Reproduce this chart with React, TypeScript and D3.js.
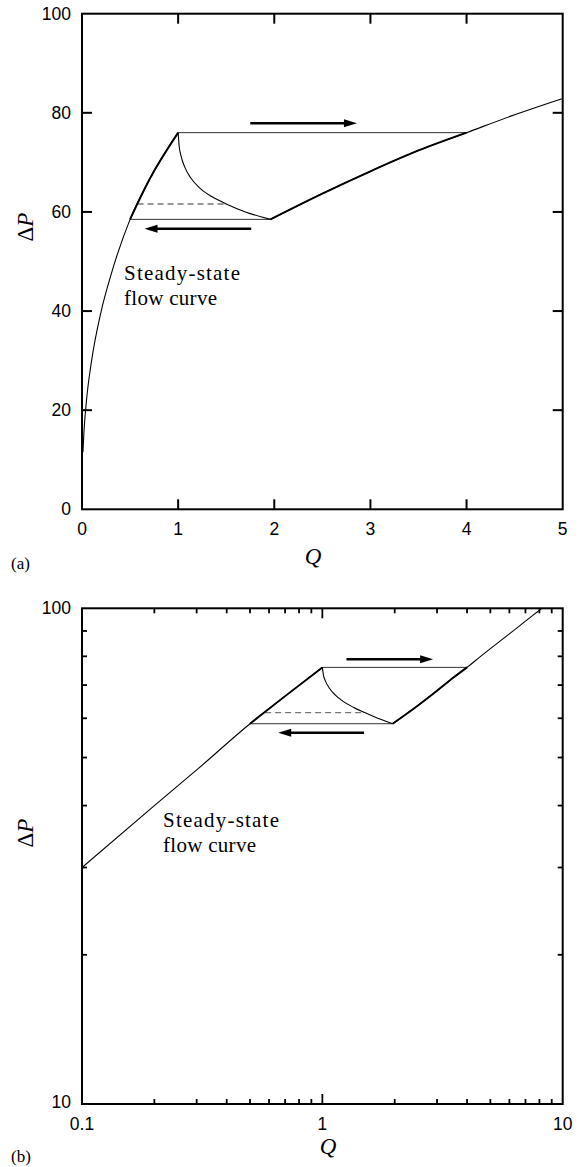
import React from "react";
import * as d3 from "d3";

// Steady-state flow curve, low-flow branch (Q, ΔP)
const steadyLowQ = [0.01, 0.02, 0.05, 0.1, 0.2, 0.3, 0.5, 0.7, 1.0];
const steadyLowP = [11.5, 15.5, 22.6, 30.0, 40.0, 47.2, 58.5, 66.5, 76.0];
// Steady-state flow curve, high-flow branch
const steadyHighQ = [1.96, 2.5, 3, 3.5, 4, 4.5, 5, 6, 7, 8, 8.3];
const steadyHighP = [58.5, 63.7, 68.2, 72.4, 76.0, 79.6, 82.9, 88.8, 94.2, 99.1, 100.5];
// Pressure relaxation after the jump at the peak
const decayQ = [1.0, 1.01, 1.03, 1.07, 1.13, 1.22, 1.35, 1.5, 1.7, 1.96];
const decayP = [76, 73.4, 71.3, 69.0, 66.9, 64.9, 63.1, 61.6, 60.0, 58.5];
// Hysteresis plateaus: [Q start, Q end, ΔP]
const upperPlateau = [1.0, 4.0, 76.0];
const lowerPlateau = [0.5, 1.96, 58.5];
const dashedLevel = [0.578, 1.5, 61.6];
// Direction arrows: [Q tail, Q tip, ΔP]
const arrowsLinear = [
  [1.75, 2.86, 77.9],
  [1.76, 0.65, 56.6],
];
const arrowsLog = [
  [1.26, 2.89, 78.9],
  [1.49, 0.655, 56.1],
];
// Tick values
const linXTicks = [0, 1, 2, 3, 4, 5];
const linYTicks = [0, 20, 40, 60, 80, 100];
const logXMajor = [0.1, 1, 10];
const logXLabels = ["0.1", "1", "10"];
const logXMinor = [0.2, 0.3, 0.4, 0.5, 0.6, 0.7, 0.8, 0.9, 2, 3, 4, 5, 6, 7, 8, 9];
const logYMajor = [10, 100];
const logYMinor = [20, 30, 40, 50, 60, 70, 80, 90];

const sans = "Liberation Sans, Arimo, Arial, sans-serif";
const serif = "Liberation Serif, Tinos, Times New Roman, serif";

type Pt = [number, number];
const zip = (qs: number[], ps: number[]): Pt[] => qs.map((q, i) => [q, ps[i]]);

function Arrow({ x1, x2, y }: { x1: number; x2: number; y: number }) {
  const dir = x2 > x1 ? 1 : -1;
  const head = 13;
  return (
    <g>
      <line x1={x1} x2={x2 - dir * head * 0.8} y1={y} y2={y} stroke="#000" strokeWidth={2.4} />
      <path d={`M${x2},${y} L${x2 - dir * head},${y - 4} L${x2 - dir * head},${y + 4} Z`} fill="#000" />
    </g>
  );
}

function Curves({
  x,
  y,
  low,
  high,
  arrows,
  clipId,
}: {
  x: (v: number) => number;
  y: (v: number) => number;
  low: Pt[];
  high: Pt[];
  arrows: number[][];
  clipId: string;
}) {
  const line = d3
    .line<Pt>()
    .x((d) => x(d[0]))
    .y((d) => y(d[1]))
    .curve(d3.curveMonotoneX);
  const decay = zip(decayQ, decayP);
  const lowThick = low.filter((d) => d[0] >= lowerPlateau[0]);
  const highThick = high.filter((d) => d[0] <= upperPlateau[1]);
  return (
    <g clipPath={`url(#${clipId})`}>
      <line x1={x(upperPlateau[0])} x2={x(upperPlateau[1])} y1={y(upperPlateau[2])} y2={y(upperPlateau[2])} stroke="#333" strokeWidth={1} />
      <line x1={x(lowerPlateau[0])} x2={x(lowerPlateau[1])} y1={y(lowerPlateau[2])} y2={y(lowerPlateau[2])} stroke="#333" strokeWidth={1} />
      <line
        x1={x(dashedLevel[0])}
        x2={x(dashedLevel[1])}
        y1={y(dashedLevel[2])}
        y2={y(dashedLevel[2])}
        stroke="#777"
        strokeWidth={1.3}
        strokeDasharray="6,4"
      />
      <path d={line(low) || ""} fill="none" stroke="#000" strokeWidth={1.1} />
      <path d={line(high) || ""} fill="none" stroke="#000" strokeWidth={1.1} />
      <path d={line(lowThick) || ""} fill="none" stroke="#000" strokeWidth={1.9} />
      <path d={line(highThick) || ""} fill="none" stroke="#000" strokeWidth={1.9} />
      <path d={line(decay) || ""} fill="none" stroke="#000" strokeWidth={1.1} />
      {arrows.map((a, i) => (
        <Arrow key={i} x1={x(a[0])} x2={x(a[1])} y={y(a[2])} />
      ))}
    </g>
  );
}

function DeltaP({ cx, cy }: { cx: number; cy: number }) {
  return (
    <text
      transform={`translate(${cx},${cy}) rotate(-90)`}
      textAnchor="middle"
      dominantBaseline="central"
      style={{ fontFamily: serif, fontSize: 23 }}
    >
      Δ<tspan style={{ fontStyle: "italic" }}>P</tspan>
    </text>
  );
}

function FlowLabel({ x, y }: { x: number; y: number }) {
  return (
    <g style={{ fontFamily: serif, fontSize: 21 }}>
      <text x={x} y={y} textLength={116} lengthAdjust="spacing">
        Steady-state
      </text>
      <text x={x} y={y + 25} textLength={93} lengthAdjust="spacing">
        flow curve
      </text>
    </g>
  );
}

export default function App() {
  const L = 82;
  const R = 562.7;

  // Panel (a): linear axes
  const xa = d3.scaleLinear().domain([0, 5]).range([L, R]);
  const ya = d3.scaleLinear().domain([0, 100]).range([509.3, 13.7]);
  // Panel (b): logarithmic axes
  const xb = d3.scaleLog().domain([0.1, 10]).range([L, R]);
  const yb = d3.scaleLog().domain([10, 100]).range([1104, 608.3]);

  const lowA = zip(steadyLowQ, steadyLowP);
  const highA = zip(steadyHighQ, steadyHighP);
  const lowB = lowA.filter((d) => d[0] >= 0.1);
  const highB = highA;

  const tickLen = 10;
  const minorLen = 5;
  const labelSize = 17.5;

  const [bBot, bTop] = yb.range() as [number, number];

  return (
    <svg
      width={579}
      height={1167}
      style={{ position: "absolute", left: 0, top: 0, background: "#fff" }}
      xmlns="http://www.w3.org/2000/svg"
    >
      <defs>
        <clipPath id="clipA">
          <rect x={L} y={ya(100)} width={R - L} height={ya(0) - ya(100)} />
        </clipPath>
        <clipPath id="clipB">
          <rect x={L} y={bTop} width={R - L} height={bBot - bTop} />
        </clipPath>
      </defs>

      {/* ---------- Panel (a) ---------- */}
      <Curves x={xa} y={ya} low={lowA} high={highA} arrows={arrowsLinear} clipId="clipA" />
      <g stroke="#000" strokeWidth={2}>
        {linXTicks.slice(1, -1).map((t) => (
          <g key={`ax${t}`}>
            <line x1={xa(t)} x2={xa(t)} y1={ya(0)} y2={ya(0) - tickLen} />
            <line x1={xa(t)} x2={xa(t)} y1={ya(100)} y2={ya(100) + tickLen} />
          </g>
        ))}
        {linYTicks.slice(1, -1).map((t) => (
          <g key={`ay${t}`}>
            <line x1={L} x2={L + tickLen} y1={ya(t)} y2={ya(t)} />
            <line x1={R} x2={R - tickLen} y1={ya(t)} y2={ya(t)} />
          </g>
        ))}
      </g>
      <rect x={L} y={ya(100)} width={R - L} height={ya(0) - ya(100)} fill="none" stroke="#000" strokeWidth={2} />
      <g style={{ fontFamily: sans, fontSize: labelSize }} fill="#000">
        {linXTicks.map((t) => (
          <text key={`axl${t}`} x={xa(t)} y={ya(0) + 26} textAnchor="middle">
            {t}
          </text>
        ))}
        {linYTicks.map((t) => (
          <text key={`ayl${t}`} x={71} y={ya(t)} textAnchor="end" dominantBaseline="central">
            {t}
          </text>
        ))}
      </g>
      <text x={313} y={564} textAnchor="middle" style={{ fontFamily: serif, fontStyle: "italic", fontSize: 23 }}>
        Q
      </text>
      <DeltaP cx={25} cy={227} />
      <FlowLabel x={124} y={280} />
      <text x={11} y={569} style={{ fontFamily: serif, fontSize: 17 }}>
        (a)
      </text>

      {/* ---------- Panel (b) ---------- */}
      <Curves x={xb} y={yb} low={lowB} high={highB} arrows={arrowsLog} clipId="clipB" />
      <g stroke="#000" strokeWidth={1.8}>
        {logXMajor.slice(1, -1).map((t) => (
          <g key={`bx${t}`}>
            <line x1={xb(t)} x2={xb(t)} y1={bBot} y2={bBot - tickLen} />
            <line x1={xb(t)} x2={xb(t)} y1={bTop} y2={bTop + tickLen} />
          </g>
        ))}
        {logXMinor.map((t) => (
          <g key={`bxm${t}`}>
            <line x1={xb(t)} x2={xb(t)} y1={bBot} y2={bBot - minorLen} />
            <line x1={xb(t)} x2={xb(t)} y1={bTop} y2={bTop + minorLen} />
          </g>
        ))}
        {logYMinor.map((t) => (
          <g key={`bym${t}`}>
            <line x1={L} x2={L + minorLen} y1={yb(t)} y2={yb(t)} />
            <line x1={R} x2={R - minorLen} y1={yb(t)} y2={yb(t)} />
          </g>
        ))}
      </g>
      <rect x={L} y={bTop} width={R - L} height={bBot - bTop} fill="none" stroke="#000" strokeWidth={2} />
      <g style={{ fontFamily: sans, fontSize: labelSize }} fill="#000">
        {logXMajor.map((t, i) => (
          <text key={`bxl${t}`} x={xb(t)} y={bBot + 26} textAnchor="middle">
            {logXLabels[i]}
          </text>
        ))}
        {logYMajor.map((t) => (
          <text key={`byl${t}`} x={71} y={yb(t) - (t === 10 ? 2 : 0)} textAnchor="end" dominantBaseline="central">
            {t}
          </text>
        ))}
      </g>
      <text x={328} y={1154} textAnchor="middle" style={{ fontFamily: serif, fontStyle: "italic", fontSize: 23 }}>
        Q
      </text>
      <DeltaP cx={25} cy={833} />
      <FlowLabel x={163} y={827} />
      <text x={11} y={1162} style={{ fontFamily: serif, fontSize: 17 }}>
        (b)
      </text>
    </svg>
  );
}
